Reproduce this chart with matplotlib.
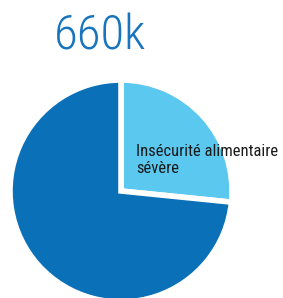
import matplotlib
matplotlib.use("Agg")
import matplotlib.pyplot as plt

# Data
categories = ["Insécurité alimentaire\nsévère", "Autre"]
values = [26.6, 73.4]
colors = ["#5bc8f0", "#0a71b8"]
title_text = "660k"

W, H = 283, 298
fig = plt.figure(figsize=(W / 100, H / 100), dpi=100)
ax = fig.add_axes([0, 0, 1, 1])

cx, cy, r = 121, 191, 111  # pixel centre (from top) and radius
wedges, _ = ax.pie(values, colors=colors, startangle=90, counterclock=False,
                   radius=1.0, wedgeprops=dict(edgecolor="white", linewidth=4))
ax.set_aspect("auto")
ax.set_xlim(-cx / r, (W - cx) / r)
ax.set_ylim(-(H - cy) / r, cy / r)
ax.axis("off")

font = ["Roboto Condensed", "DejaVu Sans"]
lines = categories[0].split("\n")
ax.text((136 - cx) / r, (cy - 156) / r, lines[0], ha="left", va="baseline",
        fontsize=12.0, color="#1a1a1a", family=font)
ax.text((136 - cx) / r, (cy - 173) / r, lines[1], ha="left", va="baseline",
        fontsize=12.0, color="#1a1a1a", family=font)

fig.text(100 / W, 1 - 50 / H, title_text, ha="center", va="baseline",
         fontsize=35, color="#1874bc", family=font, weight="light")

fig.savefig("out.png", dpi=100)
